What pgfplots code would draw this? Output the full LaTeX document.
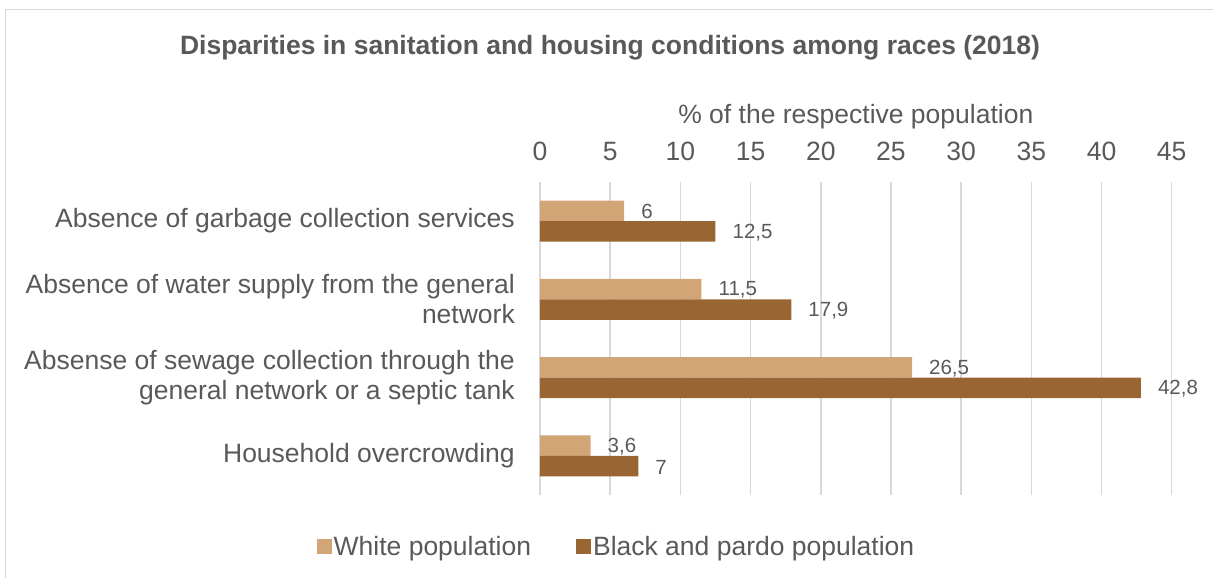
\documentclass[border=0pt]{standalone}
\usepackage{fontspec}
\setmainfont{Liberation Sans}
\usepackage{pgfplots}
\pgfplotsset{compat=1.18}
\definecolor{txt}{HTML}{595959}
\definecolor{gridc}{HTML}{D9D9D9}
\definecolor{lightbar}{HTML}{D2A577}
\definecolor{darkbar}{HTML}{996633}
\begin{document}
\begin{tikzpicture}[x=1pt,y=1pt]
\useasboundingbox (0,0) rectangle (1213,578);
\draw[gridc, line width=1.5pt] (5.5,0) -- (5.5,568.5) -- (1213,568.5);
\node[text=txt, font=\fontsize{26.5}{30}\selectfont\bfseries, anchor=base] at (610, 578-55) {Disparities in sanitation and housing conditions among races (2018)};
\node[text=txt, font=\fontsize{26.5}{30}\selectfont, anchor=base] at (855.8, 578-123.3) {\% of the respective population};
\begin{axis}[at={(540pt,83pt)}, anchor=south west, scale only axis,
  width=631.7pt, height=313pt,
  xmin=0, xmax=45, ymin=-0.5, ymax=3.5,
  xbar, bar width=20.5pt,
  clip=false,
  xtick={0,5,...,45}, ytick={0,1,2,3},
  yticklabels={Household overcrowding,{Absense of sewage collection through the\\general network or a septic tank},{Absence of water supply from the general\\network},Absence of garbage collection services},
  /pgf/number format/assume math mode=true,
  xticklabel pos=upper,
  axis line style={draw=none},
  major tick length=0pt,
  xmajorgrids, ymajorgrids=false,
  major grid style={gridc, line width=1.5pt},
  xticklabel style={anchor=base, inner sep=0pt, yshift=22pt, text=txt, font=\fontsize{26.5}{30}\selectfont},
  yticklabel style={anchor=east, inner sep=0pt, xshift=-25pt, align=right, text=txt, font=\fontsize{26.5}{30}\selectfont},
  nodes near coords={\pgfmathprintnumber[use comma]{\pgfplotspointmeta}},
  every node near coord/.append style={anchor=west, inner sep=0pt, xshift=17pt, yshift=-1pt, text=txt, font=\fontsize{20.5}{24}\selectfont},
  legend columns=2,
  legend style={at={(0.1211,-0.1661)}, anchor=center, draw=none, fill=none, text=txt, font=\fontsize{26.5}{30}\selectfont, /tikz/every even column/.append style={column sep=43pt}},
  legend image code/.code={\fill[#1] (-5pt,-7.5pt) rectangle (10pt,7.5pt);},
]
\addplot[fill=lightbar, draw=none, bar shift=10.25pt] coordinates {(3.6,0) (26.5,1) (11.5,2) (6,3)};
\addlegendentry{White population}
\addplot[fill=darkbar, draw=none, bar shift=-10.25pt] coordinates {(7,0) (42.8,1) (17.9,2) (12.5,3)};
\addlegendentry{Black and pardo population}
\end{axis}
\end{tikzpicture}
\end{document}
